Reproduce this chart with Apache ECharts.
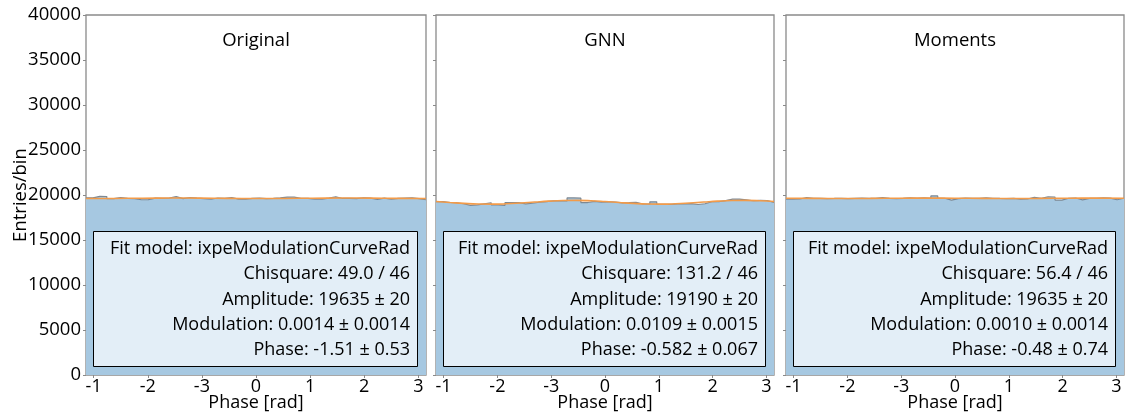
<!DOCTYPE html>
<html>
<head>
<meta charset="utf-8">
<script src="https://cdn.jsdelivr.net/npm/echarts@6/dist/echarts.min.js"></script>
<style>
html,body{margin:0;padding:0;background:#fff;}
#c{width:1130px;height:412px;}
</style>
</head>
<body>
<div id="c"></div>
<script>
// ---------------- data ----------------
const panelTitles = ['Original', 'GNN', 'Moments'];

const originalCounts = [19685,19855,19835,19595,19725,19635,19605,19475,19485,19655,19615,19665,19815,19605,19725,19655,19605,19525,19665,19615,19725,19535,19545,19615,19655,19605,19635,19675,19765,19755,19615,19635,19525,19535,19655,19795,19615,19635,19605,19695,19645,19515,19655,19525,19615,19665,19695,19605,19475];
const gnnCounts = [19267,19165,19142,19031,18848,18893,19021,19141,18905,18853,19142,19162,19010,19082,19195,19257,19342,19359,19345,19678,19647,19163,19296,19199,19243,19221,19128,19146,19189,18999,19001,19245,18962,18952,19016,19021,19046,18946,19029,19251,19260,19372,19534,19543,19459,19362,19411,19388,19176];
const momentsCounts = [19535,19555,19725,19615,19635,19605,19615,19635,19595,19635,19655,19615,19635,19725,19615,19605,19635,19675,19615,19675,19635,19895,19635,19435,19605,19655,19615,19635,19695,19635,19615,19605,19635,19545,19555,19745,19635,19785,19775,19435,19635,19665,19465,19615,19635,19675,19655,19475,19635];

// fitted modulation curves, sampled evenly from -pi to pi
const originalFit = [19608,19619,19646,19662,19652,19624,19608,19619,19646,19662,19652,19624,19608];
const gnnFit = [19273,19166,19065,18998,18982,19021,19107,19214,19315,19382,19398,19359,19273,19166,19065,18998,18982,19021,19107,19214,19315,19382,19398,19359,19273];
const momentsFit = [19646,19627,19615,19624,19643,19655,19646,19627,19615,19624,19643,19655,19646];

const annotations = [
  ['Fit model: ixpeModulationCurveRad','Chisquare: 49.0 / 46','Amplitude: 19635 \u00b1 20','Modulation: 0.0014 \u00b1 0.0014','Phase: -1.51 \u00b1 0.53'],
  ['Fit model: ixpeModulationCurveRad','Chisquare: 131.2 / 46','Amplitude: 19190 \u00b1 20','Modulation: 0.0109 \u00b1 0.0015','Phase: -0.582 \u00b1 0.067'],
  ['Fit model: ixpeModulationCurveRad','Chisquare: 56.4 / 46','Amplitude: 19635 \u00b1 20','Modulation: 0.0010 \u00b1 0.0014','Phase: -0.48 \u00b1 0.74']
];

const xTickValues = [-3,-2,-1,0,1,2,3];
const xTickLabels = ['-1','-2','-3','0','1','2','3'];
const yTickValues = [0,5000,10000,15000,20000,25000,30000,35000,40000];
const yTickLabels = ['0','5000','10000','15000','20000','25000','30000','35000','40000'];
const xAxisTitle = 'Phase [rad]';
const yAxisTitle = 'Entries/bin';

// ---------------- layout ----------------
const FONT = 'Open Sans';
const panelLeft = [86, 436, 786];
const panelWidth = [340, 338, 338];
const plotTop = 15, plotHeight = 360;
const XMIN = -Math.PI, XMAX = Math.PI;

const countsList = [originalCounts, gnnCounts, momentsCounts];
const fitList = [originalFit, gnnFit, momentsFit];

function stepPoints(counts) {
  const n = counts.length, w = (XMAX - XMIN) / n, pts = [];
  for (let i = 0; i < n; i++) {
    pts.push([XMIN + i * w, counts[i]]);
    pts.push([XMIN + (i + 1) * w, counts[i]]);
  }
  return pts;
}
function curvePoints(vals) {
  const n = vals.length;
  return vals.map((v, k) => [XMIN + k * (XMAX - XMIN) / (n - 1), v]);
}

const grids = [], xAxes = [], yAxes = [], series = [], graphics = [];
for (let p = 0; p < 3; p++) {
  grids.push({left: panelLeft[p], top: plotTop, width: panelWidth[p], height: plotHeight,
    show: true, borderColor: '#8a8a8a', borderWidth: 1.3, backgroundColor: 'transparent',
    containLabel: false, outerBoundsMode: 'none'});
  xAxes.push({
    type: 'value', gridIndex: p, min: XMIN, max: XMAX,
    name: xAxisTitle, nameLocation: 'middle', nameGap: 19, nameMoveOverlap: false,
    nameTextStyle: {fontFamily: FONT, fontSize: 18, color: '#000', lineHeight: 18},
    axisLine: {show: false, onZero: false},
    splitLine: {show: false},
    axisTick: {show: true, length: 3, lineStyle: {color: '#8a8a8a'}, customValues: xTickValues},
    axisLabel: {show: true, customValues: xTickValues, margin: 4, fontFamily: FONT, fontSize: 18, color: '#000', lineHeight: 16,
      formatter: v => { const i = xTickValues.indexOf(Math.round(v)); return i >= 0 ? xTickLabels[i] : ''; }}
  });
  yAxes.push({
    type: 'value', gridIndex: p, min: 0, max: 40000, interval: 5000,
    name: p === 0 ? yAxisTitle : '', nameLocation: 'middle', nameGap: 56, nameMoveOverlap: false,
    nameTextStyle: {fontFamily: FONT, fontSize: 18.5, color: '#000'},
    axisLine: {show: false, onZero: false}, splitLine: {show: false},
    axisTick: {show: true, length: 3, lineStyle: {color: '#8a8a8a'}},
    axisLabel: {show: p === 0, margin: 5, fontFamily: FONT, fontSize: 18.5, color: '#000',
      formatter: v => { const i = yTickValues.indexOf(v); return i >= 0 ? yTickLabels[i] : ''; }}
  });
  // pale area under fit
  series.push({type: 'line', xAxisIndex: p, yAxisIndex: p, data: curvePoints(fitList[p]), smooth: true,
    showSymbol: false, lineStyle: {width: 0, opacity: 0}, areaStyle: {color: '#fdf5ec', opacity: 1}, z: 1, silent: true});
  // histogram
  series.push({type: 'line', xAxisIndex: p, yAxisIndex: p, data: stepPoints(countsList[p]),
    showSymbol: false, lineStyle: {width: 1.2, color: '#7d8893'}, areaStyle: {color: '#a6c8e1', opacity: 1}, z: 2, silent: true});
  // fit curve
  series.push({type: 'line', xAxisIndex: p, yAxisIndex: p, data: curvePoints(fitList[p]), smooth: true,
    showSymbol: false, lineStyle: {width: 1.6, color: '#f29b4a'}, z: 3, silent: true});

  const L = panelLeft[p], W = panelWidth[p];
  graphics.push({type: 'text', style: {text: panelTitles[p], x: L + W / 2, y: 41,
    align: 'center', verticalAlign: 'middle', font: '18.5px "' + FONT + '"', fill: '#000'}, z: 10});
  graphics.push({type: 'rect', shape: {x: L + 7.5, y: 231.5, width: W - 16, height: 135},
    style: {fill: '#e3eef7', stroke: '#000', lineWidth: 1}, z: 10});
  annotations[p].forEach((t, j) => {
    graphics.push({type: 'text', style: {text: t, x: L + W - 16, y: 249 + j * 25.2,
      align: 'right', verticalAlign: 'middle', font: '18px "' + FONT + '"', fill: '#000'}, z: 11});
  });
}

const chart = echarts.init(document.getElementById('c'), null, {renderer: 'canvas'});
chart.setOption({
  animation: false,
  backgroundColor: '#fff',
  grid: grids, xAxis: xAxes, yAxis: yAxes, series: series,
  graphic: graphics
});
</script>
</body>
</html>
